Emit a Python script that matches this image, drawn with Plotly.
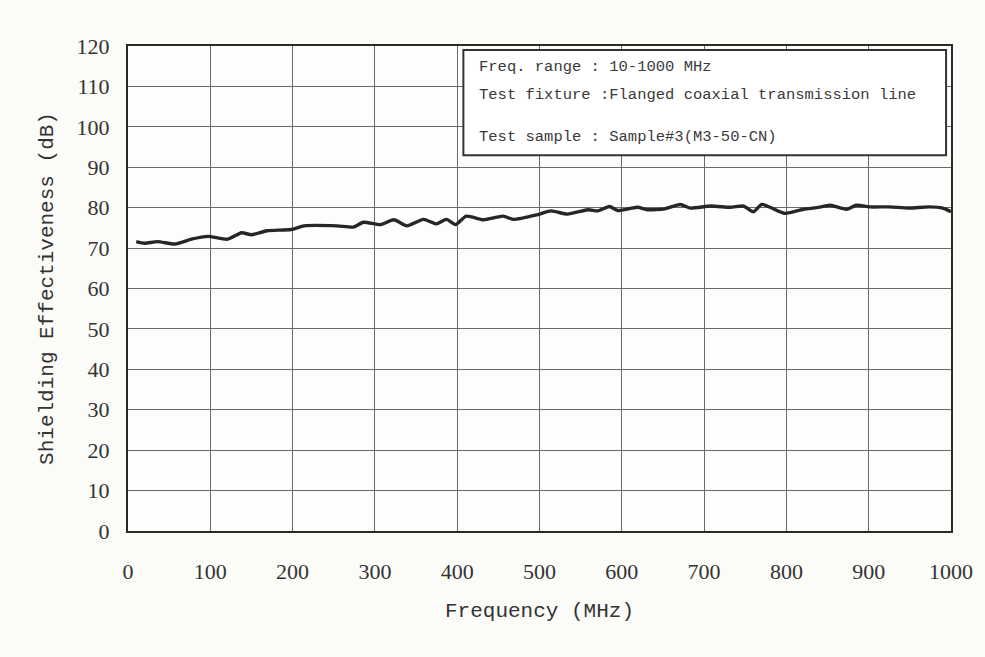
import plotly.graph_objects as go

freq_mhz = [10, 20, 36, 57, 77, 97, 121, 138, 150, 169, 198, 214, 254, 274, 286, 307,
            323, 339, 359, 375, 387, 398, 411, 432, 456, 468, 498, 514, 534, 559, 571,
            585, 595, 619, 631, 652, 671, 683, 708, 732, 748, 760, 770, 780, 798, 821,
            837, 853, 873, 885, 901, 925, 949, 973, 990, 1000]
se_db = [71.6, 71.2, 71.6, 71.0, 72.2, 72.9, 72.2, 73.8, 73.3, 74.3, 74.6, 75.5, 75.5,
         75.2, 76.4, 75.8, 77.0, 75.5, 77.1, 76.0, 77.1, 75.8, 77.9, 77.0, 77.9, 77.1,
         78.3, 79.2, 78.4, 79.5, 79.2, 80.3, 79.3, 80.1, 79.5, 79.7, 80.8, 79.9, 80.4,
         80.1, 80.4, 79.0, 80.8, 80.1, 78.6, 79.6, 80.0, 80.6, 79.6, 80.6, 80.2, 80.2,
         79.9, 80.2, 79.9, 79.0]

x_ticks = [0, 100, 200, 300, 400, 500, 600, 700, 800, 900, 1000]
y_ticks = [0, 10, 20, 30, 40, 50, 60, 70, 80, 90, 100, 110, 120]

info_lines = ["Freq. range : 10-1000 MHz",
              "Test fixture :Flanged coaxial transmission line",
              "Test sample : Sample#3(M3-50-CN)"]

fig = go.Figure()
fig.add_trace(go.Scatter(x=freq_mhz, y=se_db, mode="lines",
                         line=dict(color="#262626", width=3.4, shape="spline", smoothing=0.6),
                         showlegend=False, hoverinfo="skip"))

grid = "#6a6a6a"
fig.update_xaxes(range=[0, 1000], tickvals=x_ticks, ticktext=[str(v) for v in x_ticks],
                 showgrid=True, gridcolor=grid, gridwidth=1,
                 showline=True, linecolor="#2a2a2a", linewidth=2, mirror=True,
                 ticks="outside", ticklen=20, tickcolor="rgba(0,0,0,0)",
                 tickfont=dict(family="Liberation Serif", size=22, color="#333"),
                 title=dict(text="Frequency (MHz)", standoff=19,
                            font=dict(family="Liberation Mono", size=21, color="#333")),
                 zeroline=False)
fig.update_yaxes(range=[0, 120], tickvals=y_ticks, ticktext=[str(v) for v in y_ticks],
                 showgrid=True, gridcolor=grid, gridwidth=1,
                 showline=True, linecolor="#2a2a2a", linewidth=2, mirror=True,
                 ticks="outside", ticklen=12, tickcolor="rgba(0,0,0,0)",
                 tickfont=dict(family="Liberation Serif", size=22, color="#333"),
                 title=dict(text="Shielding Effectiveness (dB)", standoff=17,
                            font=dict(family="Liberation Mono", size=21, color="#333")),
                 zeroline=False)

fig.add_shape(type="rect", xref="paper", yref="paper", x0=0.4075, x1=0.994, y0=0.775, y1=0.992,
              fillcolor="white", line=dict(color="#333", width=2), layer="above")
for txt, yy in zip(info_lines, [0.957, 0.899, 0.812]):
    fig.add_annotation(xref="paper", yref="paper", x=0.424, y=yy, text=txt, showarrow=False,
                       xanchor="left", yanchor="middle",
                       font=dict(family="Liberation Mono", size=15.5, color="#3a3a3a"))

fig.update_layout(width=985, height=657, paper_bgcolor="#fbfbf8", plot_bgcolor="#fdfdfb",
                  margin=dict(l=128, r=30, t=46, b=126))

fig.write_html("out.html", config={"displayModeBar": False},
               post_script="document.body.style.margin='0';document.body.style.background='#fbfbf8';")
